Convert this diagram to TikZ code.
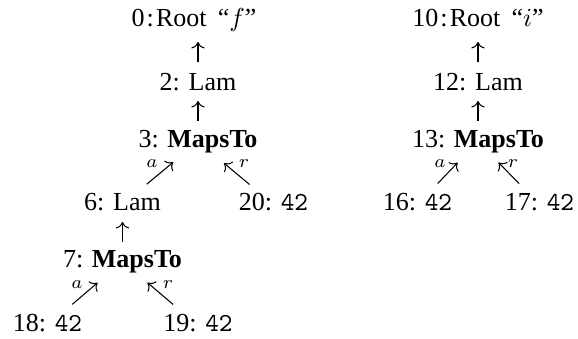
\documentclass[tikz,border=0pt]{standalone}
\usepackage{fontspec}
\setmainfont{Liberation Serif}
\usetikzlibrary{arrows.meta}
\begin{document}
\begin{tikzpicture}[x=0.3846pt,y=-0.3846pt,
  tn/.style={inner sep=0pt, text height=7pt, text depth=2pt, font=\fontsize{10}{12}\selectfont},
  lbl/.style={inner sep=0pt, font=\fontsize{7}{8}\selectfont},
  arr/.style={-{Computer Modern Rightarrow}, line width=0.4pt},
]
\useasboundingbox (0,0) rectangle (578,339);
% left tree
\node[tn] (root0) at (194,20.5) {0\kern0.8pt:\kern0.8pt Root\hspace{4.3pt}“$f$”};
\node[tn] (lam2) at (198,84.5) {2: Lam};
\node[tn] (map3) at (198,141.5) {3: \textbf{MapsTo}};
\node[tn] (lam6) at (122.5,204.5) {6: Lam};
\node[tn] (n20) at (273.5,204.5) {20: \texttt{42}};
\node[tn] (map7) at (122.5,261.5) {7: \textbf{MapsTo}};
\node[tn] (n18) at (47.5,325.5) {18: \texttt{42}};
\node[tn] (n19) at (198,325.5) {19: \texttt{42}};
% right tree
\node[tn] (root10) at (478,20.5) {10\kern0.8pt:\kern0.8pt Root\hspace{4.3pt}“$i$”};
\node[tn] (lam12) at (478,84.5) {12: Lam};
\node[tn] (map13) at (478,141.5) {13: \textbf{MapsTo}};
\node[tn] (n16) at (417.5,204.5) {16: \texttt{42}};
\node[tn] (n17) at (539.5,204.5) {17: \texttt{42}};
% vertical arrows
\draw[arr, shorten <=8.65pt, shorten >=8.27pt] (lam2.center) -- (lam2 |- root0);
\draw[arr, shorten <=7.88pt, shorten >=6.35pt] (map3.center) -- (lam2.center);
\draw[arr, shorten <=7.5pt, shorten >=6.73pt] (map7.center) -- (lam6.center);
\draw[arr, shorten <=8.65pt, shorten >=8.27pt] (lam12.center) -- (root10.center);
\draw[arr, shorten <=7.88pt, shorten >=6.35pt] (map13.center) -- (lam12.center);
% diagonal arrows
\draw[arr, shorten <=12.2pt, shorten >=12.4pt] (lam6.center) -- (map3.center);
\draw[arr, shorten <=12pt, shorten >=13pt] (n20.center) -- (map3.center);
\draw[arr, shorten <=12.5pt, shorten >=12.6pt] (n18.center) -- (map7.center);
\draw[arr, shorten <=12.5pt, shorten >=12.6pt] (n19.center) -- (map7.center);
\draw[arr, shorten <=11.2pt, shorten >=11.3pt] (n16.center) -- (map13.center);
\draw[arr, shorten <=11.2pt, shorten >=11.3pt] (n17.center) -- (map13.center);
% labels
\node[lbl] (la3) at (152,164) {$a$};
\node[lbl] (lr3) at (244,164) {$r$};
\node[lbl] (la7) at (77,285) {$a$};
\node[lbl] (lr7) at (168,285) {$r$};
\node[lbl] (la13) at (440,164) {$a$};
\node[lbl] (lr13) at (513,164) {$r$};
\end{tikzpicture}
\end{document}
